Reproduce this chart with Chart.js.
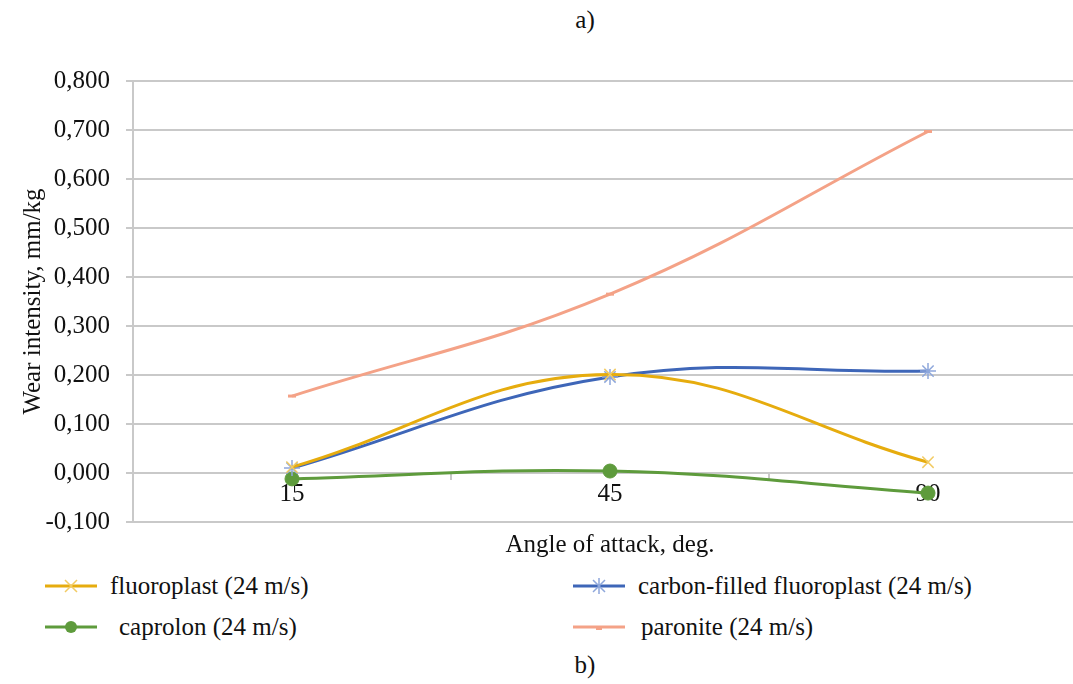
<!DOCTYPE html>
<html>
<head>
<meta charset="utf-8">
<script src="https://cdn.jsdelivr.net/npm/chart.js@4/dist/chart.umd.min.js"></script>
<style>
  html, body { margin: 0; padding: 0; background: #fff; overflow: hidden; }
  body { width: 1073px; height: 684px; position: relative; font-family: "Liberation Serif", "Times New Roman", serif; color: #111; }
  #wrap { position: absolute; left: 0; top: 0; width: 1100px; height: 560px; }
  .cap { position: absolute; font-size: 25px; width: 60px; text-align: center; left: 555px; line-height: 30px; }
  #legend { position: absolute; left: 45px; top: 565px; display: grid; grid-template-columns: 528px auto; grid-auto-rows: 41px; font-size: 25px; }
  #legend .item { display: flex; align-items: center; }
  #legend svg { margin-right: 13px; }
</style>
</head>
<body>
<div class="cap" style="top:5px">a)</div>
<div id="wrap"><canvas id="wearChart"></canvas></div>
<div id="legend"></div>
<div class="cap" style="top:650px">b)</div>

<script>
// Data
const angles = ['15', '45', '90'];
const fluoroplast = [0.012, 0.201, 0.022];
const carbonFilled = [0.010, 0.196, 0.208];
const caprolon = [-0.012, 0.004, -0.041];
const paronite = [0.157, 0.365, 0.697];

const seriesNames = [
  'fluoroplast (24 m/s)',
  'carbon-filled fluoroplast (24 m/s)',
  'caprolon (24 m/s)',
  'paronite (24 m/s)'
];

const gridColor = '#c9c9c9';
const serif = '"Liberation Serif", "Times New Roman", serif';

const datasets = [
  {
    label: seriesNames[0], data: fluoroplast,
    borderColor: '#E6AC0E', borderWidth: 3,
    pointStyle: 'crossRot', pointRadius: 8, pointBorderWidth: 1.5,
    pointBorderColor: '#F2CB63', pointBackgroundColor: '#F2CB63'
  },
  {
    label: seriesNames[1], data: carbonFilled,
    borderColor: '#3E66B8', borderWidth: 3,
    pointStyle: 'star', pointRadius: 8, pointBorderWidth: 1.5,
    pointBorderColor: '#8EA7DB', pointBackgroundColor: '#8EA7DB'
  },
  {
    label: seriesNames[2], data: caprolon,
    borderColor: '#5E9B3C', borderWidth: 3,
    pointStyle: 'circle', pointRadius: 7, pointBorderWidth: 1,
    pointBorderColor: '#5E9B3C', pointBackgroundColor: '#5E9B3C'
  },
  {
    label: seriesNames[3], data: paronite,
    borderColor: '#F4A287', borderWidth: 3,
    pointStyle: 'line', pointRadius: 4, pointBorderWidth: 3,
    pointBorderColor: '#F4A287', pointBackgroundColor: '#F4A287'
  }
];
datasets.forEach(d => { d.tension = 0.4; d.fill = false; });

const ctx = document.getElementById('wearChart').getContext('2d');
const chart = new Chart(ctx, {
  type: 'line',
  data: { labels: angles, datasets: datasets },
  options: {
    responsive: true,
    maintainAspectRatio: false,
    animation: false,
    layout: { padding: { top: 81, right: 13, bottom: 0, left: 0 } },
    plugins: {
      legend: { display: false },
      tooltip: { enabled: false },
      title: {
        display: true,
        text: 'Angle of attack, deg.',
        position: 'bottom',
        fullSize: false,
        color: '#111',
        font: { family: serif, size: 25, weight: 'normal' },
        padding: { top: 8, bottom: 0 }
      }
    },
    scales: {
      x: {
        type: 'category',
        position: { y: 0 },
        offset: true,
        grid: { display: true, drawOnChartArea: false, offset: true, tickLength: 6, color: gridColor, lineWidth: 2 },
        border: { display: true, color: gridColor, width: 2 },
        ticks: { color: '#111', font: { family: serif, size: 25 }, padding: 0 }
      },
      y: {
        min: -0.1,
        max: 0.8,
        afterFit: s => { s.width = 133; },
        grid: { color: gridColor, lineWidth: 2, tickLength: 7 },
        border: { color: gridColor, width: 2 },
        ticks: {
          stepSize: 0.1,
          color: '#111',
          padding: 16,
          font: { family: serif, size: 25 },
          callback: v => v.toFixed(3).replace('.', ',')
        },
        title: {
          display: true,
          text: 'Wear intensity, mm/kg',
          color: '#111',
          font: { family: serif, size: 25 },
          padding: { top: 18, bottom: 0 }
        }
      }
    }
  }
});

// HTML legend in two columns, built from the datasets
function markerSvg(ds) {
  const c = ds.pointBorderColor, cx = 26, cy = 10;
  let m = '';
  if (ds.pointStyle === 'crossRot') {
    m = `<path d="M${cx-6} ${cy-6}L${cx+6} ${cy+6}M${cx+6} ${cy-6}L${cx-6} ${cy+6}" stroke="${c}" stroke-width="1.5"/>`;
  } else if (ds.pointStyle === 'star') {
    m = `<path d="M${cx-6} ${cy-6}L${cx+6} ${cy+6}M${cx+6} ${cy-6}L${cx-6} ${cy+6}M${cx} ${cy-8}L${cx} ${cy+8}" stroke="${c}" stroke-width="1.5"/>`;
  } else if (ds.pointStyle === 'circle') {
    m = `<circle cx="${cx}" cy="${cy}" r="6" fill="${c}"/>`;
  } else {
    m = `<path d="M${cx-3} ${cy+1}L${cx+3} ${cy+1}" stroke="${c}" stroke-width="4"/>`;
  }
  return `<svg width="52" height="20"><path d="M0 ${cy}L52 ${cy}" stroke="${ds.borderColor}" stroke-width="3"/>${m}</svg>`;
}
const legendEl = document.getElementById('legend');
datasets.forEach((ds, i) => {
  const item = document.createElement('div');
  item.className = 'item';
  const pad = i === 2 ? 'padding-left:9px' : (i === 3 ? 'padding-left:3px' : '');
  item.innerHTML = markerSvg(ds) + '<span style="' + pad + '">' + ds.label + '</span>';
  legendEl.appendChild(item);
});
</script>
</body>
</html>
